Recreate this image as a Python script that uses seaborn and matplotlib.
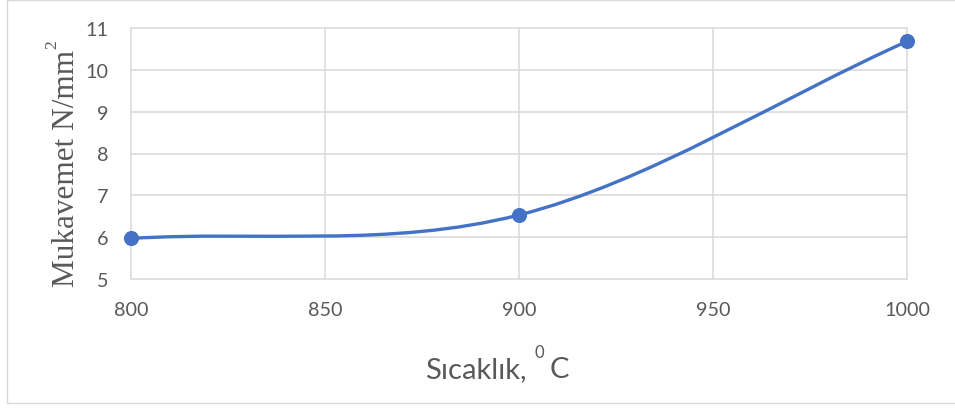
import numpy as np
import pandas as pd
import matplotlib
matplotlib.use("Agg")
import matplotlib.pyplot as plt
from matplotlib.path import Path
from matplotlib.patches import PathPatch, Rectangle
import seaborn as sns

# ---- data ----
temperatures = [800, 900, 1000]
strength = [5.97, 6.53, 10.68]
x_ticks = [800, 850, 900, 950, 1000]
y_ticks = [5, 6, 7, 8, 9, 10, 11]
x_label_main = "Sıcaklık,"
x_label_sup = "0"
x_label_unit = "C"
y_label_main = "Mukavemet N/mm"
y_label_sup = "2"

BLUE = "#4472C4"
GRID = "#D9D9D9"
TXT = "#595959"

sns.set_theme(style="white")
plt.rcParams["font.family"] = ["Lato", "DejaVu Sans"]

W, H = 955, 410
fig = plt.figure(figsize=(W / 100, H / 100), dpi=100)
ax = fig.add_axes([131 / W, 1 - 280 / H, (907 - 131) / W, (280 - 29) / H])

df = pd.DataFrame({"t": temperatures, "s": strength})

# Smoothed line (Excel-style Bezier smoothing through the data points)
P = np.column_stack([df["t"].to_numpy(float), df["s"].to_numpy(float)])
n = len(P)
ext = np.vstack([2 * P[0] - P[1], P, 2 * P[-1] - P[-2]])
verts = [tuple(P[0])]
codes = [Path.MOVETO]
for i in range(n - 1):
    p0, p1, p2, p3 = ext[i], ext[i + 1], ext[i + 2], ext[i + 3]
    c1 = p1 + (p2 - p0) / 6.0
    c2 = p2 - (p3 - p1) / 6.0
    verts += [tuple(c1), tuple(c2), tuple(p2)]
    codes += [Path.CURVE4] * 3
ax.add_patch(PathPatch(Path(verts, codes), facecolor="none", edgecolor=BLUE,
                       lw=2.4, capstyle="round", joinstyle="round", zorder=3))

sns.scatterplot(data=df, x="t", y="s", ax=ax, s=118, color=BLUE,
                edgecolor=BLUE, linewidth=0, zorder=4, clip_on=False, legend=False)

ax.set_xlim(800, 1000)
ax.set_ylim(5, 11)
ax.set_xticks(x_ticks)
ax.set_yticks(y_ticks)
ax.set_xticklabels([str(v) for v in x_ticks])
ax.set_yticklabels([str(v) for v in y_ticks])
ax.tick_params(axis="both", length=0, labelsize=14.2, colors=TXT, pad=16)
ax.set_xlabel("")
ax.set_ylabel("")
for sp in ax.spines.values():
    sp.set_visible(False)
ax.grid(True, color=GRID, lw=1.1)
for l in ax.get_xgridlines() + ax.get_ygridlines():
    l.set_clip_on(False)
ax.set_axisbelow(True)

renderer = fig.canvas.get_renderer()
px = lambda x: x / W
py = lambda y: 1 - y / H

# x label: "Sıcaklık, ⁰ C"  (pieces laid out, then centred at x=497)
t1 = fig.text(0, py(378), x_label_main, ha="left", va="baseline",
              fontsize=21, color=TXT)
bb1 = t1.get_window_extent(renderer)
t2 = fig.text((bb1.x1 + 8) / W, py(358), x_label_sup, ha="left", va="baseline",
              fontsize=12, color=TXT)
bb2 = t2.get_window_extent(renderer)
t3 = fig.text((bb2.x1 + 6) / W, py(378), x_label_unit, ha="left", va="baseline",
              fontsize=21, color=TXT)
bb3 = t3.get_window_extent(renderer)
shift = 497 - (bb1.x0 + bb3.x1) / 2
for t in (t1, t2, t3):
    x, y = t.get_position()
    t.set_position((x + shift / W, y))

# y label: "Mukavemet N/mm²"
ty = fig.text(px(73.5), py(287), y_label_main, rotation=90, rotation_mode="anchor",
              ha="left", va="baseline", fontsize=22.5, color=TXT,
              family=["Liberation Serif", "DejaVu Serif"])
bby = ty.get_window_extent(renderer)
fig.text(px(56.5), (bby.y1 + 1) / H, y_label_sup, rotation=90, rotation_mode="anchor",
         ha="left", va="baseline", fontsize=12.5, color=TXT,
         family=["Liberation Serif", "DejaVu Serif"])

fig.add_artist(Rectangle((7 / W, 1 - 404 / H), 1.0, (404 - 0.5) / H,
                         transform=fig.transFigure, fill=False, edgecolor=GRID,
                         lw=1.0, clip_on=True))

fig.savefig("out.png", dpi=100)
